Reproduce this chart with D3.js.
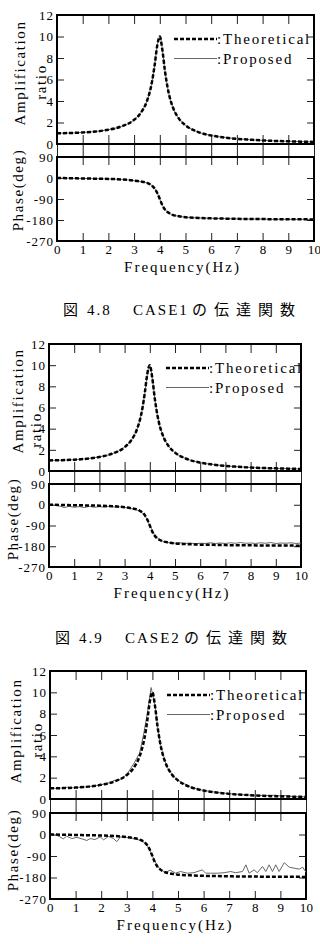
<!DOCTYPE html>
<html>
<head>
<meta charset="utf-8">
<script src="https://cdn.jsdelivr.net/npm/d3@7"></script>
<style>
body { margin: 0; background: #fff; }
svg { display: block; }
</style>
</head>
<body>
<script>
// ---- values ----
const freqTicks = [0, 1, 2, 3, 4, 5, 6, 7, 8, 9, 10];
const ampTicks = [0, 2, 4, 6, 8, 10, 12];
const phaseTicks = [90, 0, -90, -180, -270];

// theoretical curve (same in all three cases)
const freqHz = [0, 0.5, 1, 1.5, 2, 2.5, 3, 3.25, 3.5, 3.6, 3.7, 3.8, 3.9, 4, 4.1, 4.2, 4.3, 4.4, 4.5, 4.75, 5, 5.5, 6, 6.5, 7, 7.5, 8, 8.5, 9, 9.5, 10];
const theoAmp = [1.00, 1.02, 1.07, 1.16, 1.33, 1.63, 2.25, 2.86, 4.00, 4.76, 5.83, 7.35, 9.15, 10.0, 8.75, 6.81, 5.29, 4.22, 3.47, 2.34, 1.74, 1.11, 0.79, 0.61, 0.48, 0.40, 0.33, 0.28, 0.25, 0.22, 0.19];
const theoPhase = [0, -1, -2, -3, -4, -6, -11, -15, -21, -26, -33, -45, -64, -90, -117, -135, -146, -153, -158, -164, -168, -171, -173, -174, -175, -176, -176, -177, -177, -177, -178];

// CASE2 proposed phase
const case2PhaseFreq = [0, 0.2, 0.4, 0.6, 0.8, 1.0, 1.2, 1.4, 1.6, 1.8, 2.0, 2.2, 2.4, 2.6, 2.8, 3.0, 3.2, 3.4, 3.6, 3.8, 4.0, 4.2, 4.4, 4.6, 4.8, 5.0, 5.2, 5.4, 5.6, 5.8, 6.0, 6.2, 6.4, 6.6, 6.8, 7.0, 7.2, 7.4, 7.6, 7.8, 8.0, 8.2, 8.4, 8.6, 8.8, 9.0, 9.2, 9.4, 9.6, 9.8, 10];
const case2Phase = [0, -2, -5, -12, -7, -11, -8, -12, -7, -11, -8, -11, -6, -10, -9, -11, -15, -20, -27, -45, -90, -134, -152, -162, -165, -167, -165, -168, -166, -169, -167, -168, -165, -168, -166, -168, -165, -167, -164, -167, -166, -168, -165, -167, -164, -168, -166, -167, -165, -168, -166];

// CASE3 proposed amplitude and phase
const case3AmpFreq = [0, 0.2, 0.4, 0.6, 0.7, 0.8, 1.0, 1.2, 1.4, 1.6, 1.8, 2.0, 2.2, 2.4, 2.5, 2.6, 2.8, 3.0, 3.27, 3.5, 3.66, 3.8, 3.95, 4.1, 4.2, 4.3, 4.4, 4.57, 4.8, 5.0, 5.5, 6.0, 6.5, 7.0, 7.5, 8.0, 8.6, 8.8, 9.0, 9.2, 9.5, 10];
const case3Amp = [1.0, 1.0, 1.02, 1.05, 1.12, 1.04, 1.07, 1.1, 1.13, 1.18, 1.25, 1.33, 1.45, 1.55, 1.75, 1.72, 1.9, 2.3, 3.3, 4.3, 6.1, 8.0, 10.45, 8.8, 6.8, 5.3, 4.3, 3.0, 2.2, 1.75, 1.1, 0.8, 0.62, 0.5, 0.4, 0.34, 0.33, 0.36, 0.28, 0.33, 0.22, 0.2];
const case3PhaseFreq = [0, 0.26, 0.52, 0.65, 0.85, 1.05, 1.24, 1.44, 1.57, 1.76, 1.96, 2.09, 2.29, 2.48, 2.61, 2.75, 3.0, 3.2, 3.4, 3.6, 3.8, 4.0, 4.2, 4.4, 4.5, 4.7, 4.9, 5.1, 5.36, 5.62, 5.95, 6.08, 6.27, 6.54, 6.8, 7.06, 7.25, 7.52, 7.65, 7.78, 7.97, 8.1, 8.3, 8.43, 8.56, 8.69, 8.82, 8.95, 9.15, 9.35, 9.54, 9.74, 9.87, 10];
const case3Phase = [0, -3, -18, -7, -17, -12, -18, -25, -17, -21, -10, -22, -8, -17, -30, -10, -12, -15, -20, -27, -45, -90, -134, -152, -159, -149, -162, -155, -162, -160, -148, -162, -162, -162, -160, -155, -160, -155, -127, -162, -148, -160, -134, -155, -127, -155, -127, -155, -118, -137, -141, -145, -137, -158];

const captions = [
  ['図', '4.8', 'CASE1', 'の伝達関数'],
  ['図', '4.9', 'CASE2', 'の伝達関数']
];

// ---- layout ----
const SERIF = '"Liberation Serif", "Times New Roman", serif';
const width = 320, height = 944;
const svg = d3.select('body').append('svg')
    .attr('width', width)
    .attr('height', height)
    .attr('font-family', SERIF);

const zip = (xs, ys) => xs.map((x, i) => [x, ys[i]]);

const panels = [
  {left: 57, right: 314, top: 15, zero: 144, phTop: 157, phBot: 241,
   ampLab: [20, 73], ratioLab: [41, 82], phLab: [18, 190], capY: 310, capX: 63,
   propAmp: zip(freqHz, theoAmp), propPh: zip(freqHz, theoPhase)},
  {left: 49, right: 301, top: 344, zero: 471, phTop: 484, phBot: 567,
   ampLab: [18, 401], ratioLab: [36, 430], phLab: [13, 519], capY: 638, capX: 55,
   propAmp: zip(freqHz, theoAmp), propPh: zip(case2PhaseFreq, case2Phase)},
  {left: 50, right: 306, top: 671, zero: 799, phTop: 813, phBot: 899,
   ampLab: [16, 731], ratioLab: [37, 740], phLab: [13, 850], capY: null,
   propAmp: zip(case3AmpFreq, case3Amp), propPh: zip(case3PhaseFreq, case3Phase)}
];

function styleAxis(sel, labels, spacing) {
  sel.attr('font-family', SERIF).attr('font-size', 13);
  sel.select('.domain').remove();
  sel.selectAll('.tick line').attr('stroke', '#222').attr('stroke-width', 1);
  sel.selectAll('.tick text').attr('fill', '#000').style('letter-spacing', (spacing || 1) + 'px');
  if (!labels) sel.selectAll('.tick text').remove();
}

function drawPanel(p, i) {
  const g = svg.append('g');
  const x = d3.scaleLinear().domain([0, 10]).range([p.left, p.right]);
  const yA = d3.scaleLinear().domain([0, 12]).range([p.zero, p.top]);
  const yP = d3.scaleLinear().domain([-270, 90]).range([p.phBot, p.phTop]);
  const fmt = d => String(d);

  // amplitude axes
  g.append('g').attr('transform', `translate(${p.left},0)`)
    .call(d3.axisLeft(yA).tickValues(ampTicks).tickSize(-7).tickPadding(3).tickFormat(fmt))
    .call(s => styleAxis(s, true));
  g.append('g').attr('transform', `translate(${p.right},0)`)
    .call(d3.axisRight(yA).tickValues(ampTicks).tickSize(-7))
    .call(s => styleAxis(s, false));
  g.append('g').attr('transform', `translate(0,${p.top})`)
    .call(d3.axisTop(x).tickValues(freqTicks).tickSize(-9))
    .call(s => styleAxis(s, false));
  g.append('g').attr('transform', `translate(0,${p.zero})`)
    .call(d3.axisBottom(x).tickValues(freqTicks).tickSize(-9))
    .call(s => styleAxis(s, false));
  // ticks running through the gap between the two plots
  g.append('g').attr('transform', `translate(0,${p.zero})`)
    .call(d3.axisBottom(x).tickValues(freqTicks).tickSize(p.phTop - p.zero))
    .call(s => styleAxis(s, false));

  // phase axes
  g.append('g').attr('transform', `translate(${p.left},0)`)
    .call(d3.axisLeft(yP).tickValues(phaseTicks).tickSize(-7).tickPadding(3).tickFormat(fmt))
    .call(s => styleAxis(s, true));
  g.append('g').attr('transform', `translate(${p.right},0)`)
    .call(d3.axisRight(yP).tickValues(phaseTicks).tickSize(-7))
    .call(s => styleAxis(s, false));
  g.append('g').attr('transform', `translate(0,${p.phTop})`)
    .call(d3.axisTop(x).tickValues(freqTicks).tickSize(-8))
    .call(s => styleAxis(s, false));
  g.append('g').attr('transform', `translate(0,${p.phBot})`)
    .call(d3.axisBottom(x).tickValues(freqTicks).tickSize(-8).tickPadding(4).tickFormat(fmt))
    .call(s => styleAxis(s, true, 0.3));

  // frames
  g.append('rect').attr('x', p.left).attr('y', p.top)
    .attr('width', p.right - p.left).attr('height', p.zero - p.top)
    .attr('fill', 'none').attr('stroke', '#000').attr('stroke-width', 2);
  g.append('rect').attr('x', p.left).attr('y', p.phTop)
    .attr('width', p.right - p.left).attr('height', p.phBot - p.phTop)
    .attr('fill', 'none').attr('stroke', '#000').attr('stroke-width', 2);

  // curves
  const lineA = d3.line().x(d => x(d[0])).y(d => yA(d[1]));
  const lineP = d3.line().x(d => x(d[0])).y(d => yP(d[1]));
  const smoothA = d3.line().x(d => x(d[0])).y(d => yA(d[1])).curve(d3.curveMonotoneX);
  const smoothP = d3.line().x(d => x(d[0])).y(d => yP(d[1])).curve(d3.curveMonotoneX);

  g.append('path').datum(p.propAmp)
    .attr('d', i === 2 ? lineA : smoothA)
    .attr('fill', 'none').attr('stroke', '#666').attr('stroke-width', 1);
  g.append('path').datum(p.propPh)
    .attr('d', i === 0 ? smoothP : lineP)
    .attr('fill', 'none').attr('stroke', '#666').attr('stroke-width', 1);

  g.append('path').datum(zip(freqHz, theoAmp))
    .attr('d', smoothA)
    .attr('fill', 'none').attr('stroke', '#000').attr('stroke-width', 2.5)
    .attr('stroke-dasharray', '4,2');
  g.append('path').datum(zip(freqHz, theoPhase))
    .attr('d', smoothP)
    .attr('fill', 'none').attr('stroke', '#000').attr('stroke-width', 2.5)
    .attr('stroke-dasharray', '4,2');

  // legend
  const lx = p.left + 117, ly1 = p.top + 24, ly2 = p.top + 43.5;
  g.append('line').attr('x1', lx).attr('x2', lx + 43).attr('y1', ly1).attr('y2', ly1)
    .attr('stroke', '#000').attr('stroke-width', 2.6).attr('stroke-dasharray', '4,2');
  g.append('line').attr('x1', lx).attr('x2', lx + 43).attr('y1', ly2).attr('y2', ly2)
    .attr('stroke', '#666').attr('stroke-width', 1);
  const legText = (y, t) => g.append('text').attr('x', lx + 43).attr('y', y).attr('dy', '0.35em')
    .attr('font-size', 15).style('letter-spacing', '1.8px')
    .attr('fill', '#000').text(t);
  legText(ly1, ':Theoretical');
  legText(ly2, ':Proposed');

  // axis titles
  const vText = (pos, t) => g.append('text')
    .attr('transform', `translate(${pos[0]},${pos[1]}) rotate(-90)`)
    .attr('text-anchor', 'middle').attr('dy', '0.35em')
    .attr('font-size', 15).style('letter-spacing', '1.6px')
    .attr('fill', '#000').text(t);
  vText(p.ampLab, 'Amplification');
  vText(p.ratioLab, 'ratio');
  vText(p.phLab, 'Phase(deg)');

  g.append('text').attr('x', (p.left + p.right) / 2 - 3).attr('y', p.phBot + 26).attr('dy', '0.35em')
    .attr('text-anchor', 'middle').attr('font-size', 15)
    .style('letter-spacing', '2px').attr('fill', '#000').text('Frequency(Hz)');

  // caption
  if (p.capY !== null) {
    const parts = captions[i];
    const offs = [0, 24, 70, 129];
    const t = g.append('text').attr('y', p.capY).attr('dy', '0.35em')
      .attr('font-size', 15).attr('fill', '#000');
    parts.forEach((s, k) => {
      t.append('tspan').attr('x', p.capX + offs[k])
        .attr('font-family', k === 1 || k === 2 ? SERIF : '"Noto Sans CJK JP", sans-serif')
        .style('letter-spacing', k === 3 ? '7px' : '2px')
        .text(s);
    });
  }
}

panels.forEach(drawPanel);
</script>
</body>
</html>
